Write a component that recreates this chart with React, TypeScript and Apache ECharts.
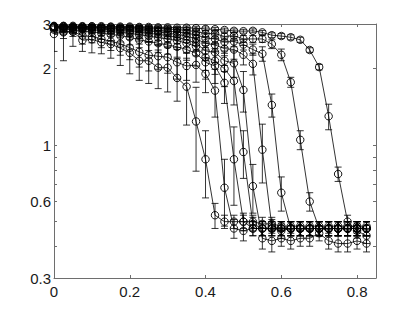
import React, { useEffect, useRef } from "react";
import * as echarts from "echarts";

const xs = [0, 0.025, 0.05, 0.075, 0.1, 0.125, 0.15, 0.175, 0.2, 0.225, 0.25, 0.275, 0.3, 0.325, 0.35, 0.375, 0.4, 0.425, 0.45, 0.475, 0.5, 0.525, 0.55, 0.575, 0.6, 0.625, 0.65, 0.675, 0.7, 0.725, 0.75, 0.775, 0.8, 0.825];

const serA = [2.74, 2.80, 2.80, 2.59, 2.61, 2.54, 2.50, 2.41, 2.31, 2.15, 2.15, 2.02, 2.02, 1.84, 1.70, 1.24, 0.88, 0.53, 0.50, 0.50, 0.50, 0.50, 0.49, 0.49, 0.48, 0.48, 0.48, 0.48, 0.48, 0.48, 0.48, 0.48, 0.48, 0.48];
const errA = [0.4, 0.65, 0.35, 0.25, 0.3, 0.25, 0.3, 0.35, 0.4, 0.35, 0.4, 0.35, 0.4, 0.35, 0.5, 0.45, 0.26, 0.06, 0.03, 0.03, 0.03, 0.03, 0.03, 0.03, 0.02, 0.02, 0.02, 0.02, 0.02, 0.02, 0.02, 0.02, 0.02, 0.02];

const serB = [2.85, 2.78, 2.80, 2.70, 2.68, 2.62, 2.56, 2.51, 2.42, 2.33, 2.26, 2.24, 2.22, 2.12, 2.05, 2.07, 1.91, 1.64, 0.68, 0.47, 0.46, 0.47, 0.47, 0.47, 0.46, 0.47, 0.47, 0.47, 0.47, 0.47, 0.47, 0.47, 0.47, 0.47];
const errB = [0.12, 0.15, 0.12, 0.2, 0.15, 0.2, 0.2, 0.25, 0.25, 0.3, 0.3, 0.25, 0.3, 0.3, 0.25, 0.3, 0.3, 0.35, 0.2, 0.04, 0.04, 0.03, 0.03, 0.03, 0.03, 0.03, 0.03, 0.03, 0.03, 0.03, 0.03, 0.03, 0.03, 0.03];

const serC = [2.88, 2.86, 2.85, 2.80, 2.80, 2.76, 2.73, 2.70, 2.66, 2.60, 2.56, 2.52, 2.48, 2.44, 2.38, 2.30, 2.12, 2.05, 1.76, 0.88, 0.50, 0.47, 0.47, 0.47, 0.47, 0.47, 0.47, 0.47, 0.47, 0.47, 0.47, 0.47, 0.47, 0.47];
const errC = [0.1, 0.12, 0.1, 0.12, 0.12, 0.15, 0.15, 0.15, 0.18, 0.18, 0.2, 0.2, 0.2, 0.22, 0.22, 0.25, 0.3, 0.3, 0.3, 0.3, 0.04, 0.03, 0.03, 0.03, 0.03, 0.03, 0.03, 0.03, 0.03, 0.03, 0.03, 0.03, 0.03, 0.03];

const serD = [2.90, 2.89, 2.88, 2.86, 2.85, 2.82, 2.80, 2.78, 2.76, 2.72, 2.69, 2.65, 2.62, 2.58, 2.52, 2.45, 2.22, 2.15, 2.00, 1.79, 0.94, 0.49, 0.47, 0.47, 0.47, 0.47, 0.47, 0.47, 0.47, 0.47, 0.47, 0.47, 0.47, 0.47];
const errD = [0.08, 0.1, 0.1, 0.1, 0.1, 0.12, 0.12, 0.12, 0.15, 0.15, 0.15, 0.18, 0.18, 0.2, 0.2, 0.2, 0.25, 0.25, 0.3, 0.35, 0.2, 0.03, 0.03, 0.03, 0.03, 0.03, 0.03, 0.03, 0.03, 0.03, 0.03, 0.03, 0.03, 0.03];

const serE = [2.91, 2.90, 2.90, 2.88, 2.88, 2.86, 2.85, 2.83, 2.81, 2.78, 2.76, 2.73, 2.70, 2.66, 2.60, 2.52, 2.35, 2.32, 2.15, 2.10, 1.65, 0.69, 0.43, 0.42, 0.43, 0.42, 0.43, 0.43, 0.45, 0.42, 0.41, 0.41, 0.42, 0.41];
const errE = [0.06, 0.08, 0.08, 0.08, 0.1, 0.1, 0.1, 0.1, 0.12, 0.12, 0.12, 0.15, 0.15, 0.15, 0.18, 0.18, 0.2, 0.2, 0.2, 0.25, 0.3, 0.15, 0.04, 0.04, 0.03, 0.03, 0.03, 0.03, 0.03, 0.03, 0.03, 0.03, 0.03, 0.03];

const serF = [2.92, 2.92, 2.91, 2.90, 2.90, 2.89, 2.88, 2.87, 2.85, 2.83, 2.81, 2.79, 2.76, 2.73, 2.69, 2.62, 2.52, 2.48, 2.40, 2.38, 2.27, 2.09, 0.96, 0.48, 0.47, 0.47, 0.47, 0.47, 0.47, 0.47, 0.47, 0.47, 0.47, 0.47];
const errF = [0.05, 0.06, 0.06, 0.07, 0.07, 0.08, 0.08, 0.08, 0.1, 0.1, 0.1, 0.12, 0.12, 0.12, 0.15, 0.15, 0.15, 0.15, 0.15, 0.2, 0.2, 0.2, 0.25, 0.03, 0.03, 0.03, 0.03, 0.03, 0.03, 0.03, 0.03, 0.03, 0.03, 0.03];

const serG = [2.93, 2.93, 2.92, 2.92, 2.91, 2.90, 2.90, 2.89, 2.88, 2.87, 2.85, 2.83, 2.81, 2.79, 2.76, 2.72, 2.64, 2.62, 2.55, 2.56, 2.49, 2.38, 2.29, 1.44, 0.65, 0.47, 0.47, 0.47, 0.47, 0.47, 0.47, 0.47, 0.47, 0.47];
const errG = [0.04, 0.04, 0.05, 0.05, 0.05, 0.06, 0.06, 0.06, 0.07, 0.07, 0.08, 0.08, 0.08, 0.1, 0.1, 0.1, 0.12, 0.12, 0.12, 0.12, 0.12, 0.12, 0.15, 0.15, 0.1, 0.03, 0.03, 0.03, 0.03, 0.03, 0.03, 0.03, 0.03, 0.03];

const serH = [2.94, 2.94, 2.93, 2.93, 2.93, 2.92, 2.92, 2.91, 2.91, 2.90, 2.89, 2.88, 2.87, 2.85, 2.83, 2.80, 2.75, 2.75, 2.68, 2.70, 2.62, 2.62, 2.62, 2.50, 2.27, 1.77, 1.05, 0.60, 0.47, 0.47, 0.47, 0.47, 0.47, 0.47];
const errH = [0.03, 0.03, 0.03, 0.04, 0.04, 0.04, 0.04, 0.05, 0.05, 0.05, 0.05, 0.06, 0.06, 0.06, 0.07, 0.07, 0.08, 0.08, 0.08, 0.08, 0.08, 0.08, 0.08, 0.1, 0.12, 0.08, 0.09, 0.05, 0.03, 0.03, 0.03, 0.03, 0.03, 0.03];

const serI = [2.95, 2.95, 2.95, 2.94, 2.94, 2.94, 2.93, 2.93, 2.93, 2.92, 2.92, 2.91, 2.91, 2.90, 2.90, 2.89, 2.87, 2.86, 2.84, 2.82, 2.81, 2.82, 2.78, 2.71, 2.69, 2.66, 2.60, 2.37, 2.03, 1.30, 0.77, 0.50, 0.46, 0.44];
const errI = [0.02, 0.02, 0.02, 0.03, 0.03, 0.03, 0.03, 0.03, 0.03, 0.04, 0.04, 0.04, 0.04, 0.04, 0.05, 0.05, 0.05, 0.05, 0.05, 0.05, 0.05, 0.05, 0.05, 0.06, 0.06, 0.06, 0.06, 0.05, 0.05, 0.15, 0.05, 0.03, 0.03, 0.03];

const seriesList = [
  [serA, errA], [serB, errB], [serC, errC], [serD, errD], [serE, errE],
  [serF, errF], [serG, errG], [serH, errH], [serI, errI],
];

const xTicks = [0, 0.2, 0.4, 0.6, 0.8];
const yLabelValues = [0.3, 0.6, 1, 2, 3];
const yTickValues = [0.3, 0.4, 0.5, 0.6, 0.7, 0.8, 0.9, 1, 2, 3];
const xMin = 0, xMax = 0.85, yMin = 0.3, yMax = 3;

const L = (v: number) => Math.log10(v);

export default function App() {
  const ref = useRef<HTMLDivElement>(null);
  useEffect(() => {
    if (!ref.current) return;
    const chart = echarts.init(ref.current, null, { renderer: "svg" });
    const axisColor = "#6e6e6e";
    const labelStyle = { color: "#1a1a1a", fontSize: 15, fontFamily: "Liberation Sans, Arial, sans-serif" };
    const yFmt = (v: number) => String(Math.round(Math.pow(10, v) * 10) / 10);

    const lineSeries = seriesList.map(([vals], i) => ({
      type: "line",
      name: "s" + i,
      data: (vals as number[]).map((v, k) => [xs[k], L(v)]),
      symbol: "circle",
      symbolSize: 7.5,
      showSymbol: true,
      lineStyle: { color: "#000", width: 0.8 },
      itemStyle: { color: "rgba(0,0,0,0)", borderColor: "#000", borderWidth: 0.9 },
      emphasis: { disabled: true },
      z: 3,
    }));

    const errData: number[][] = [];
    seriesList.forEach(([vals, errs]) => {
      (vals as number[]).forEach((v, k) => {
        const e = (errs as number[])[k];
        errData.push([xs[k], L(Math.max(v - e, 0.01)), L(v + e)]);
      });
    });

    const errSeries = {
      type: "custom",
      clip: true,
      data: errData,
      z: 2,
      renderItem: (params: any, api: any) => {
        const x = api.value(0);
        const p1 = api.coord([x, api.value(1)]);
        const p2 = api.coord([x, api.value(2)]);
        const w = 3.5;
        const st = { stroke: "#000", lineWidth: 0.8 };
        return {
          type: "group",
          children: [
            { type: "line", shape: { x1: p1[0], y1: p1[1], x2: p2[0], y2: p2[1] }, style: st },
            { type: "line", shape: { x1: p1[0] - w, y1: p1[1], x2: p1[0] + w, y2: p1[1] }, style: st },
            { type: "line", shape: { x1: p2[0] - w, y1: p2[1], x2: p2[0] + w, y2: p2[1] }, style: st },
          ],
        };
      },
    };

    const xCommon = {
      type: "value",
      min: xMin,
      max: xMax,
      axisLine: { show: true, onZero: false, lineStyle: { color: axisColor, width: 1 } },
      axisTick: { show: true, inside: true, length: 3, customValues: xTicks, lineStyle: { color: axisColor } },
      splitLine: { show: false },
    };
    const yCommon = {
      type: "value",
      min: L(yMin),
      max: L(yMax),
      axisLine: { show: true, onZero: false, lineStyle: { color: axisColor, width: 1 } },
      axisTick: { show: true, inside: true, length: 3, customValues: yTickValues.map(L), lineStyle: { color: axisColor } },
      splitLine: { show: false },
    };

    chart.setOption({
      animation: false,
      backgroundColor: "#fff",
      grid: { left: 54, right: 39, top: 24, bottom: 34 },
      xAxis: [
        { ...xCommon, position: "bottom", axisLabel: { ...labelStyle, margin: 6, customValues: xTicks, formatter: (v: number) => String(Math.round(v * 10) / 10) } },
        { ...xCommon, position: "top", axisLabel: { show: false } },
      ],
      yAxis: [
        { ...yCommon, position: "left", axisLabel: { ...labelStyle, margin: 3, customValues: yLabelValues.map(L), formatter: yFmt } },
        { ...yCommon, position: "right", axisLabel: { show: false } },
      ],
      series: [errSeries, ...lineSeries],
    });
    return () => chart.dispose();
  }, []);
  return <div ref={ref} style={{ position: "fixed", left: 0, top: 0, width: 415, height: 312 }} />;
}
